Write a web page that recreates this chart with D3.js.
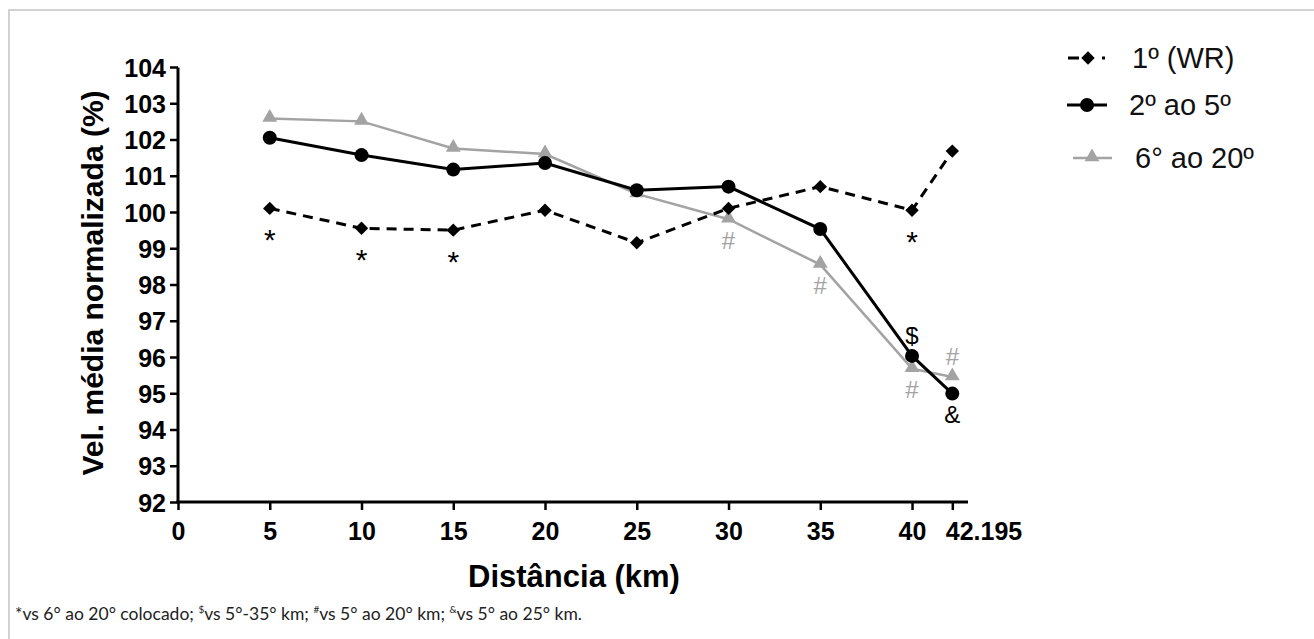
<!DOCTYPE html>
<html><head><meta charset="utf-8">
<script src="https://cdn.jsdelivr.net/npm/d3@7"></script>
<style>
html,body{margin:0;padding:0;background:#fff;}
svg{display:block;}
</style></head>
<body>
<svg id="chart" width="1314" height="639"></svg>
<script>
// ---- data ----
const distances = [5, 10, 15, 20, 25, 30, 35, 40, 42.195];
const xTicks = [0, 5, 10, 15, 20, 25, 30, 35, 40, 42.195];
const xTickLabels = ["0","5","10","15","20","25","30","35","40","42.195"];
const yTicks = [92,93,94,95,96,97,98,99,100,101,102,103,104];
const seriesNames = ["1º (WR)", "2º ao 5º", "6° ao 20º"];
const first = [100.1, 99.55, 99.5, 100.05, 99.15, 100.1, 100.7, 100.05, 101.68];
const second = [102.05, 101.57, 101.17, 101.35, 100.6, 100.7, 99.53, 96.03, 94.99];
const sixth = [102.58, 102.5, 101.75, 101.6, 100.5, 99.8, 98.55, 95.68, 95.45];
// annotation marks: series index, point index, symbol, side (1 below, -1 above)
const annotSeries = [0,0,0,0, 2,2,2,2, 1,1];
const annotPoint  = [0,1,2,7, 5,6,7,8, 7,8];
const annotSymbol = ["*","*","*","*", "#","#","#","#", "$","&"];
const annotSide   = [1,1,1,1, 1,1,1,-1, -1,1];

const svg = d3.select("#chart");
const x = d3.scaleLinear().domain([0, 43.05]).range([178, 968]);
const y = d3.scaleLinear().domain([92, 104]).range([502, 67]);
const gray = "#a3a3a3";
const FONT = "'Liberation Sans',Arial,sans-serif";

// frame
svg.append("path").attr("d","M9,639 L9,10 L1314,10").attr("fill","none").attr("stroke","#c4c4c4").attr("stroke-width",1.5);

// axes
const yAxis = d3.axisLeft(y).tickValues(yTicks).tickSize(8).tickPadding(4).tickFormat(d3.format("d"));
const gy = svg.append("g").attr("transform","translate(178,0)").call(yAxis);
const xAxis = d3.axisBottom(x).tickValues(xTicks).tickSize(8).tickPadding(6).tickFormat((d,i)=>xTickLabels[i]);
const gx = svg.append("g").attr("transform","translate(0,502)").call(xAxis);
[gx, gy].forEach(g=>{
  g.select(".domain").attr("stroke","#000").attr("stroke-width",3);
  g.selectAll(".tick line").attr("stroke","#000").attr("stroke-width",2.5);
  g.selectAll(".tick text").attr("fill","#000").style("font-family",FONT)
   .style("font-weight","bold").style("font-size","25px");
});
gy.select(".domain").attr("d","M0,67.5V502.5");
gx.select(".domain").attr("d","M176.5,0H968");
gx.selectAll(".tick text").attr("dy","0.95em");
gx.selectAll(".tick text").filter(d=>d===42.195).attr("text-anchor","start").attr("dx",-7);
gy.selectAll(".tick text").attr("dy","0.36em");

// axis titles
svg.append("text").attr("x",574).attr("y",587).attr("text-anchor","middle")
  .style("font-family",FONT).style("font-weight","bold").style("font-size","31px")
  .text("Distância (km)");
svg.append("text").attr("transform","translate(103,283) rotate(-90)").attr("text-anchor","middle")
  .style("font-family",FONT).style("font-weight","bold").style("font-size","30px")
  .text("Vel. média normalizada (%)");

const line = d3.line().x((d,i)=>x(distances[i])).y(d=>y(d));
const allSeries = [first, second, sixth];
const diamond = d3.symbol().type(d3.symbolSquare).size(90);

// gray series
svg.append("path").datum(sixth).attr("d",line).attr("fill","none").attr("stroke",gray).attr("stroke-width",2.5);
svg.selectAll(".tri").data(sixth).enter().append("path")
  .attr("d", d3.symbol().type(d3.symbolTriangle).size(95))
  .attr("transform",(d,i)=>`translate(${x(distances[i])},${y(d)-1})`).attr("fill",gray);
// dashed series
svg.append("path").datum(first).attr("d",line).attr("fill","none").attr("stroke","#000").attr("stroke-width",3).attr("stroke-dasharray","10,7");
svg.selectAll(".dia").data(first).enter().append("path")
  .attr("d", diamond)
  .attr("transform",(d,i)=>`translate(${x(distances[i])},${y(d)}) rotate(45)`).attr("fill","#000");
// solid black series
svg.append("path").datum(second).attr("d",line).attr("fill","none").attr("stroke","#000").attr("stroke-width",3);
svg.selectAll(".circ").data(second).enter().append("circle")
  .attr("cx",(d,i)=>x(distances[i])).attr("cy",d=>y(d)).attr("r",7).attr("fill","#000");

// annotations
annotSymbol.forEach((s,k)=>{
  const si = annotSeries[k], pi = annotPoint[k];
  const cy = y(allSeries[si][pi]) + annotSide[k]*21;
  const isStar = s==="*";
  svg.append("text").attr("x", x(distances[pi])).attr("y", cy).attr("dy", isStar ? "0.7em" : "0.36em")
    .attr("text-anchor","middle").attr("fill", si===2 ? gray : "#000")
    .style("font-family",FONT).style("font-size", isStar ? "30px" : "24px").text(s);
});

// legend
const lg = svg.append("g").style("font-family",FONT).style("font-size","29px");
const rowsY = [58, 105, 158];
lg.append("line").attr("x1",1068).attr("x2",1108).attr("y1",rowsY[0]).attr("y2",rowsY[0])
  .attr("stroke","#000").attr("stroke-width",3).attr("stroke-dasharray","11,23,3,10");
lg.append("path").attr("d",diamond).attr("transform",`translate(1088,${rowsY[0]}) rotate(45)`);
lg.append("line").attr("x1",1067).attr("x2",1107).attr("y1",rowsY[1]).attr("y2",rowsY[1]).attr("stroke","#000").attr("stroke-width",3);
lg.append("circle").attr("cx",1087).attr("cy",rowsY[1]).attr("r",7);
lg.append("line").attr("x1",1073).attr("x2",1112).attr("y1",rowsY[2]).attr("y2",rowsY[2]).attr("stroke",gray).attr("stroke-width",2.5);
lg.append("path").attr("d",d3.symbol().type(d3.symbolTriangle).size(95)).attr("transform",`translate(1092,${rowsY[2]-1})`).attr("fill",gray);
const legendX = [1132, 1129, 1135];
seriesNames.forEach((n,i)=>{
  lg.append("text").attr("x",legendX[i]).attr("y",rowsY[i]).attr("dy","0.36em").attr("fill","#111").text(n);
});

// footnote
const fn = svg.append("text").attr("x",15).attr("y",620)
  .style("font-family","Lato,'Open Sans',sans-serif").style("font-size","17.5px").attr("fill","#222");
fn.append("tspan").text("*vs 6° ao 20° colocado; ");
fn.append("tspan").attr("font-size","10px").attr("dy","-7").text("$");
fn.append("tspan").attr("dy","7").text("vs 5°-35° km; ");
fn.append("tspan").attr("font-size","10px").attr("dy","-7").text("#");
fn.append("tspan").attr("dy","7").text("vs 5° ao 20° km; ");
fn.append("tspan").attr("font-size","10px").attr("dy","-7").text("&");
fn.append("tspan").attr("dy","7").text("vs 5° ao 25° km.");
</script>
</body></html>
